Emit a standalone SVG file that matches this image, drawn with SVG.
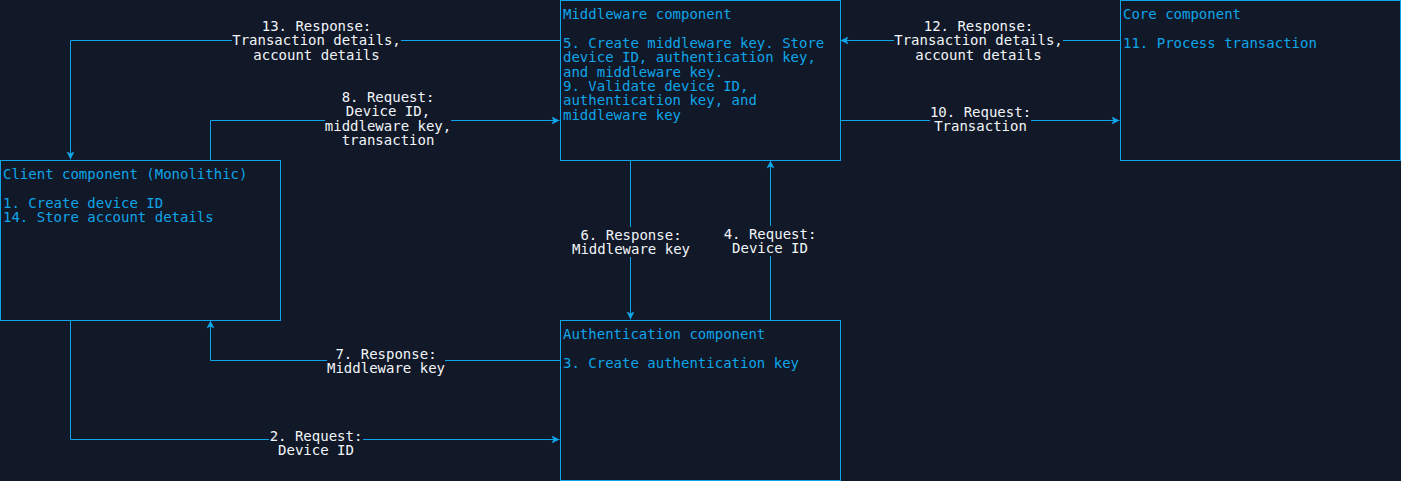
<svg xmlns="http://www.w3.org/2000/svg" width="1401" height="481" viewBox="0 0 1401 481">
<style>
.bg{fill:#111827}
.box{fill:#111827;stroke:#0ea5e9;stroke-width:1}
.nt{font-family:"DejaVu Sans Mono","Liberation Mono",monospace;font-size:14px;fill:#0ea5e9}
.lt{font-family:"DejaVu Sans Mono","Liberation Mono",monospace;font-size:14px;fill:#f1f5f9;text-anchor:middle}
.ln{fill:none;stroke:#0ea5e9;stroke-width:1}
.lb{fill:#111827}
</style>
<defs>
<marker id="ah" markerUnits="userSpaceOnUse" markerWidth="10" markerHeight="10" viewBox="0 0 10 10" refX="9" refY="5" orient="auto">
<path d="M1,1 L9,5 L1,9 L3,5 z" fill="#0ea5e9"/>
</marker>
</defs>
<rect class="bg" x="0" y="0" width="1401" height="481"/>

<g id="connectors">
<path class="ln" d="M560,40.5 H70.5 V159.5" marker-end="url(#ah)"/>
<path class="ln" d="M210.5,160 V120.5 H559.5" marker-end="url(#ah)"/>
<path class="ln" d="M1120,40.5 H840.5" marker-end="url(#ah)"/>
<path class="ln" d="M840,120.5 H1119.5" marker-end="url(#ah)"/>
<path class="ln" d="M630.5,160 V319.5" marker-end="url(#ah)"/>
<path class="ln" d="M770.5,320 V160.5" marker-end="url(#ah)"/>
<path class="ln" d="M560,360.5 H210.5 V320.5" marker-end="url(#ah)"/>
<path class="ln" d="M70.5,320 V439.5 H559.5" marker-end="url(#ah)"/>

<g id="label13">
<rect class="lb" x="232" y="18" width="169" height="46"/>
<text class="lt" x="316.5" y="31">13. Response:</text>
<text class="lt" x="316.5" y="45.4">Transaction details,</text>
<text class="lt" x="316.5" y="59.8">account details</text>
</g>
<g id="label8">
<rect class="lb" x="325" y="89" width="126" height="59"/>
<text class="lt" x="388" y="102">8. Request:</text>
<text class="lt" x="388" y="116.4">Device ID,</text>
<text class="lt" x="388" y="130.8">middleware key,</text>
<text class="lt" x="388" y="145.2">transaction</text>
</g>
<g id="label12">
<rect class="lb" x="894" y="18" width="169" height="46"/>
<text class="lt" x="978.5" y="31">12. Response:</text>
<text class="lt" x="978.5" y="45.4">Transaction details,</text>
<text class="lt" x="978.5" y="59.8">account details</text>
</g>
<g id="label10">
<rect class="lb" x="930" y="104" width="101" height="30"/>
<text class="lt" x="980.5" y="117">10. Request:</text>
<text class="lt" x="980.5" y="131.4">Transaction</text>
</g>
<g id="label6">
<rect class="lb" x="571" y="227" width="120" height="30"/>
<text class="lt" x="631" y="240">6. Response:</text>
<text class="lt" x="631" y="254.4">Middleware key</text>
</g>
<g id="label4">
<rect class="lb" x="722" y="226" width="96" height="30"/>
<text class="lt" x="770" y="239">4. Request:</text>
<text class="lt" x="770" y="253.4">Device ID</text>
</g>
<g id="label7">
<rect class="lb" x="327" y="346" width="118" height="30"/>
<text class="lt" x="386" y="359">7. Response:</text>
<text class="lt" x="386" y="373.4">Middleware key</text>
</g>
<g id="label2">
<rect class="lb" x="269" y="428" width="94" height="30"/>
<text class="lt" x="316" y="441">2. Request:</text>
<text class="lt" x="316" y="455.4">Device ID</text>
</g>
</g>

<g id="client">
<rect class="box" x="0.5" y="160.5" width="280" height="160"/>
<text class="nt" x="3" y="179">Client component (Monolithic)</text>
<text class="nt" x="3" y="207.8">1. Create device ID</text>
<text class="nt" x="3" y="222.2">14. Store account details</text>
</g>

<g id="middleware">
<rect class="box" x="560.5" y="0.5" width="280" height="160"/>
<text class="nt" x="563" y="19">Middleware component</text>
<text class="nt" x="563" y="47.8">5. Create middleware key. Store</text>
<text class="nt" x="563" y="62.2">device ID, authentication key,</text>
<text class="nt" x="563" y="76.6">and middleware key.</text>
<text class="nt" x="563" y="91">9. Validate device ID,</text>
<text class="nt" x="563" y="105.4">authentication key, and</text>
<text class="nt" x="563" y="119.8">middleware key</text>
</g>

<g id="core">
<rect class="box" x="1120.5" y="0.5" width="280" height="160"/>
<text class="nt" x="1123" y="19">Core component</text>
<text class="nt" x="1123" y="47.8">11. Process transaction</text>
</g>

<g id="authentication">
<rect class="box" x="560.5" y="320.5" width="280" height="160"/>
<text class="nt" x="563" y="339">Authentication component</text>
<text class="nt" x="563" y="367.8">3. Create authentication key</text>
</g>
</svg>
